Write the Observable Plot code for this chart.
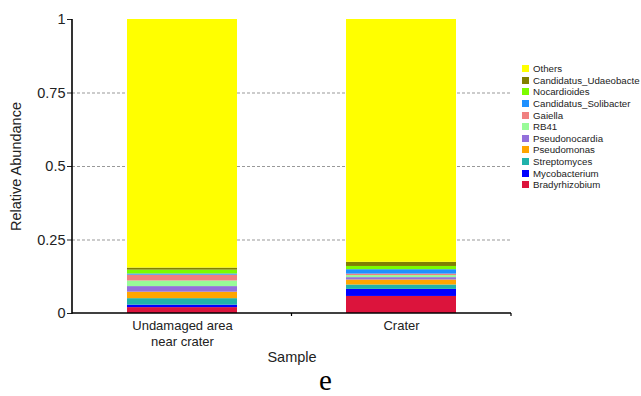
<!DOCTYPE html>
<html>
<head>
<meta charset="utf-8">
<script src="https://cdn.jsdelivr.net/npm/d3@7"></script>
<script src="https://cdn.jsdelivr.net/npm/@observablehq/plot@0.6"></script>
<style>
  html, body { margin: 0; padding: 0; background: #fff; }
  #wrap { position: relative; width: 641px; height: 396px; overflow: hidden; font-family: "Liberation Sans", Arial, sans-serif; }
  #legend { position: absolute; left: 522px; top: 63px; font-size: 9.7px; color: #222; }
  .row { display: flex; align-items: center; height: 11.6px; white-space: nowrap; }
  .sw { width: 7px; height: 7px; margin-right: 4px; flex: none; }
  #cap { position: absolute; left: 0; width: 651px; top: 365px; height: 30px; text-align: center; font-family: "Liberation Serif", "Times New Roman", serif; font-size: 29px; line-height: 30px; color: #000; }
</style>
</head>
<body>
<div id="wrap"><div id="chart"></div><div id="legend"></div><div id="cap">e</div></div>
<script>
const samples = ["Undamaged area\nnear crater", "Crater"];
const genera = ["Bradyrhizobium", "Mycobacterium", "Streptomyces", "Pseudomonas", "Pseudonocardia", "RB41", "Gaiella", "Candidatus_Solibacter", "Nocardioides", "Candidatus_Udaeobacte", "Others"];
const colors = ["#DC143C", "#0000FF", "#20B2AA", "#FFA500", "#9370DB", "#98FB98", "#F08080", "#1E90FF", "#7CFC00", "#808000", "#FFFF00"];
const undamagedValues = [0.020, 0.0085, 0.022, 0.022, 0.019, 0.019, 0.020, 0.004, 0.013, 0.007, 0.8455];
const craterValues = [0.058, 0.024, 0.015, 0.017, 0.008, 0.007, 0.005, 0.015, 0.011, 0.014, 0.826];
const yTicks = [0, 0.25, 0.5, 0.75, 1];
const gridTicks = [0.25, 0.5, 0.75];

const data = [];
genera.forEach((g, i) => {
  data.push({sample: samples[0], genus: g, value: undamagedValues[i]});
  data.push({sample: samples[1], genus: g, value: craterValues[i]});
});

const axisLines = (index, scales, values, dims) => {
  const g = d3.create("svg:g").attr("stroke", "#000").attr("fill", "none");
  const x0 = dims.marginLeft, x1 = dims.width - dims.marginRight;
  const yb = scales.y(0), yt = scales.y(1);
  g.append("line").attr("x1", x0).attr("x2", x0).attr("y1", yb + 0.75).attr("y2", yt).attr("stroke-width", 1.6);
  g.append("line").attr("x1", x0).attr("x2", x1).attr("y1", yb).attr("y2", yb).attr("stroke-width", 1.6);
  const bw = scales.x.bandwidth ? scales.x.bandwidth() : 0;
  const mid = (scales.x(samples[0]) + bw + scales.x(samples[1])) / 2;
  g.append("line").attr("x1", mid).attr("x2", mid).attr("y1", yb).attr("y2", yb + 3).attr("stroke-width", 1.2);
  g.append("line").attr("x1", x1).attr("x2", x1).attr("y1", yb).attr("y2", yb + 3).attr("stroke-width", 1.2);
  return g.node();
};

const chart = Plot.plot({
  width: 641,
  height: 370,
  marginLeft: 72,
  marginRight: 130,
  marginTop: 19,
  marginBottom: 57,
  style: {fontFamily: '"Liberation Sans", Arial, sans-serif', color: "#222", background: "#fff"},
  x: {domain: samples, paddingInner: 0.5, paddingOuter: 0.25},
  y: {domain: [0, 1]},
  color: {domain: genera, range: colors},
  marks: [
    Plot.ruleY(gridTicks, {stroke: "#999", strokeDasharray: "3,2", strokeWidth: 1}),
    Plot.barY(data, {x: "sample", y: "value", fill: "genus", order: genera}),
    Plot.axisY({ticks: yTicks, tickFormat: d => String(d), tickSize: 5, tickPadding: 2, fontSize: 14.5, label: "Relative Abundance", labelAnchor: "center", labelOffset: 62, labelArrow: false}),
    Plot.axisX({tickSize: 0, tickPadding: 4, fontSize: 13, lineHeight: 1.3, label: null}),
    Plot.text(["Sample"], {frameAnchor: "bottom", dy: 48, fontSize: 14.5, fill: "#222"}),
    axisLines
  ]
});
document.getElementById("chart").appendChild(chart);

const legend = document.getElementById("legend");
for (let i = genera.length - 1; i >= 0; i--) {
  const row = document.createElement("div");
  row.className = "row";
  const sw = document.createElement("div");
  sw.className = "sw";
  sw.style.background = colors[i];
  const label = document.createElement("span");
  label.textContent = genera[i];
  row.appendChild(sw);
  row.appendChild(label);
  legend.appendChild(row);
}
</script>
</body>
</html>
